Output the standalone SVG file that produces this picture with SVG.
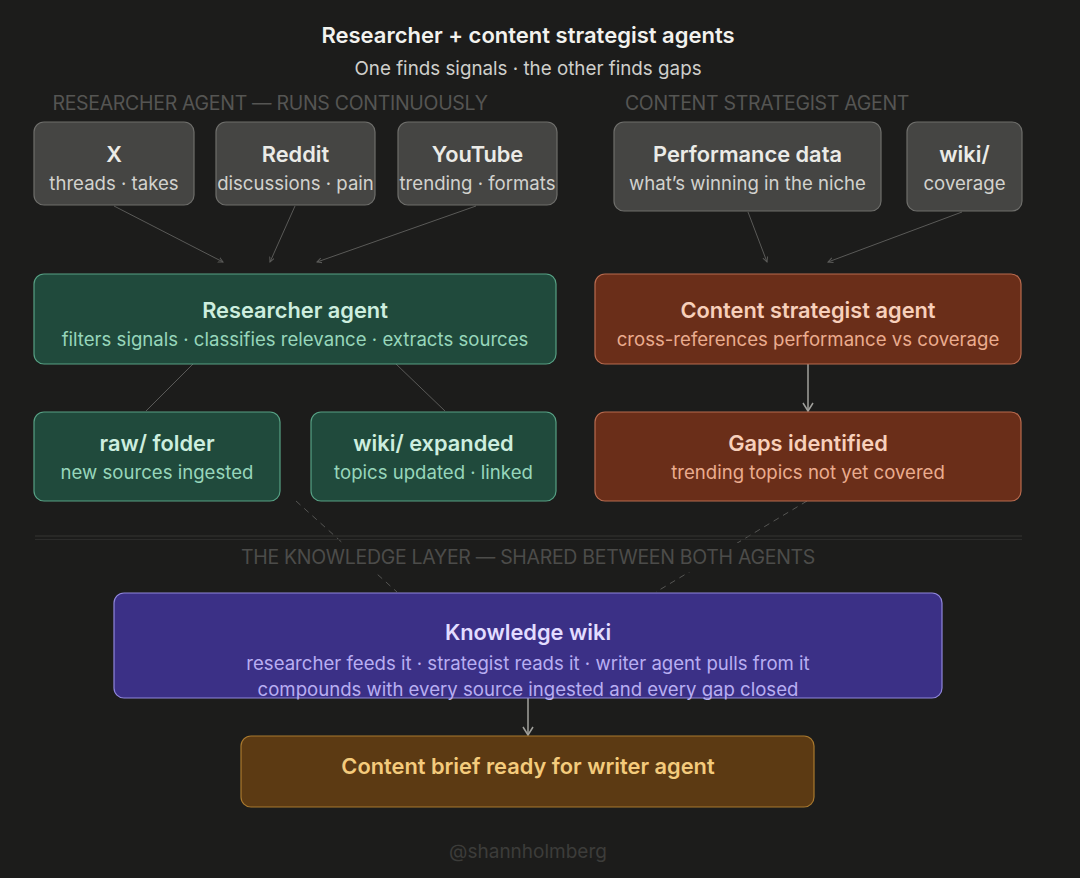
<svg xmlns="http://www.w3.org/2000/svg" width="1080" height="878" viewBox="0 0 1080 878">
<defs>
<style>
text{font-family:Inter,"Noto Sans","Liberation Sans",sans-serif;text-anchor:middle;dominant-baseline:central}
.t{font-size:21.8px;font-weight:600}
.s{font-size:18.6px}
.sec{font-size:19.5px;fill:#555553;letter-spacing:-0.3px}
.src rect{fill:#454543;stroke:#6e6e6b;stroke-width:1.2}
.src .t{fill:#ebebe7}
.src .s{fill:#d2d2ce}
.g rect{fill:#204a3c;stroke:#56a084;stroke-width:1.2}
.g .t{fill:#cdeedf}
.g .s{fill:#97d6bb}
.o rect{fill:#6a2e19;stroke:#b86a4e;stroke-width:1.2}
.o .t{fill:#f7d0bb}
.o .s{fill:#eaac8e}
.p rect{fill:#3b3086;stroke:#8f85dc;stroke-width:1.2}
.p .t{fill:#e2ddff}
.p .s{fill:#b8aef2}
.y rect{fill:#5c3a13;stroke:#a8782e;stroke-width:1.2}
.y .t{fill:#f4cb7c}
.thin{stroke:#5a5a58;stroke-width:1;fill:none}
.dash{stroke:#555553;stroke-width:1;fill:none;stroke-dasharray:6 5}
.arr{stroke:#a0a09c;stroke-width:1.5;fill:none}
</style>
<marker id="sm" viewBox="0 0 6 6" refX="5" refY="3" markerWidth="6" markerHeight="6" orient="auto" markerUnits="userSpaceOnUse">
<path d="M0,0.5 L5,3 L0,5.5" fill="none" stroke="#5a5a58" stroke-width="1"/>
</marker>
<marker id="ah" viewBox="0 0 12 12" refX="10" refY="6" markerWidth="12" markerHeight="12" orient="auto" markerUnits="userSpaceOnUse">
<path d="M2,1 L10,6 L2,11" fill="none" stroke="#a0a09c" stroke-width="1.5"/>
</marker>
</defs>
<rect width="1080" height="878" fill="#1c1c1b"/>
<text x="528" y="35" style="font-size:22px;font-weight:600;fill:#f2f2ee">Researcher + content strategist agents</text>
<text x="528" y="68" style="font-size:18.8px;fill:#cfcfcb">One finds signals · the other finds gaps</text>
<text class="sec" x="270" y="103">RESEARCHER AGENT — RUNS CONTINUOUSLY</text>
<text class="sec" x="767" y="103">CONTENT STRATEGIST AGENT</text>

<g id="connectors">
<line class="thin" x1="114" y1="206" x2="223" y2="262" marker-end="url(#sm)"/>
<line class="thin" x1="295" y1="206" x2="270" y2="262" marker-end="url(#sm)"/>
<line class="thin" x1="476" y1="206" x2="317" y2="262" marker-end="url(#sm)"/>
<line class="thin" x1="748" y1="212" x2="767" y2="262" marker-end="url(#sm)"/>
<line class="thin" x1="962" y1="212" x2="828" y2="262" marker-end="url(#sm)"/>
<line class="thin" x1="193" y1="364" x2="146" y2="411"/>
<line class="thin" x1="396" y1="364" x2="445" y2="411"/>
<line class="arr" x1="808" y1="364" x2="808" y2="411" marker-end="url(#ah)"/>
<line class="dash" x1="296" y1="501" x2="397" y2="592"/>
<line class="dash" x1="807" y1="501" x2="656" y2="592"/>
<line class="arr" x1="528" y1="698" x2="528" y2="735" marker-end="url(#ah)"/>
</g>

<g id="divider">
<line x1="35" y1="536" x2="1022" y2="536" stroke="#343433" stroke-width="1.2"/>
<line x1="35" y1="539.5" x2="1022" y2="539.5" stroke="#2c2c2b" stroke-width="1.2"/>
<rect x="232" y="543" width="592" height="29" fill="#1c1c1b"/>
<text class="sec" x="528" y="557" style="fill:#4c4c4a">THE KNOWLEDGE LAYER — SHARED BETWEEN BOTH AGENTS</text>
</g>

<g id="node-x" class="src"><rect x="34" y="122" width="160" height="83" rx="10"/><text class="t" x="114" y="154">X</text><text class="s" x="114" y="183">threads · takes</text></g>
<g id="node-reddit" class="src"><rect x="216" y="122" width="159" height="83" rx="10"/><text class="t" x="295.5" y="154">Reddit</text><text class="s" x="295.5" y="183">discussions · pain</text></g>
<g id="node-youtube" class="src"><rect x="398" y="122" width="159" height="83" rx="10"/><text class="t" x="477.5" y="154">YouTube</text><text class="s" x="477.5" y="183">trending · formats</text></g>
<g id="node-performance" class="src"><rect x="614" y="122" width="267" height="89" rx="10"/><text class="t" x="747.5" y="154">Performance data</text><text class="s" x="747.5" y="183">what’s winning in the niche</text></g>
<g id="node-wiki" class="src"><rect x="907" y="122" width="115" height="89" rx="10"/><text class="t" x="964.5" y="154">wiki/</text><text class="s" x="964.5" y="183">coverage</text></g>

<g id="node-researcher" class="g"><rect x="34" y="274" width="522" height="90" rx="10"/><text class="t" x="295" y="310">Researcher agent</text><text class="s" x="295" y="339">filters signals · classifies relevance · extracts sources</text></g>
<g id="node-raw" class="g"><rect x="34" y="412" width="246" height="89" rx="10"/><text class="t" x="157" y="443">raw/ folder</text><text class="s" x="157" y="472">new sources ingested</text></g>
<g id="node-wiki-expanded" class="g"><rect x="311" y="412" width="245" height="89" rx="10"/><text class="t" x="433.5" y="443">wiki/ expanded</text><text class="s" x="433.5" y="472">topics updated · linked</text></g>

<g id="node-strategist" class="o"><rect x="595" y="274" width="426" height="90" rx="10"/><text class="t" x="808" y="310">Content strategist agent</text><text class="s" x="808" y="339">cross-references performance vs coverage</text></g>
<g id="node-gaps" class="o"><rect x="595" y="412" width="426" height="89" rx="10"/><text class="t" x="808" y="443">Gaps identified</text><text class="s" x="808" y="472">trending topics not yet covered</text></g>

<g id="node-knowledge" class="p"><rect x="114" y="593" width="828" height="105" rx="10"/><text class="t" x="528" y="632">Knowledge wiki</text><text class="s" x="528" y="663">researcher feeds it · strategist reads it · writer agent pulls from it</text><text class="s" x="528" y="689">compounds with every source ingested and every gap closed</text></g>

<g id="node-brief" class="y"><rect x="241" y="736" width="573" height="71" rx="10"/><text class="t" x="528" y="766">Content brief ready for writer agent</text></g>

<text x="528" y="851" style="font-size:19px;fill:#3c3c3a">@shannholmberg</text>
</svg>
